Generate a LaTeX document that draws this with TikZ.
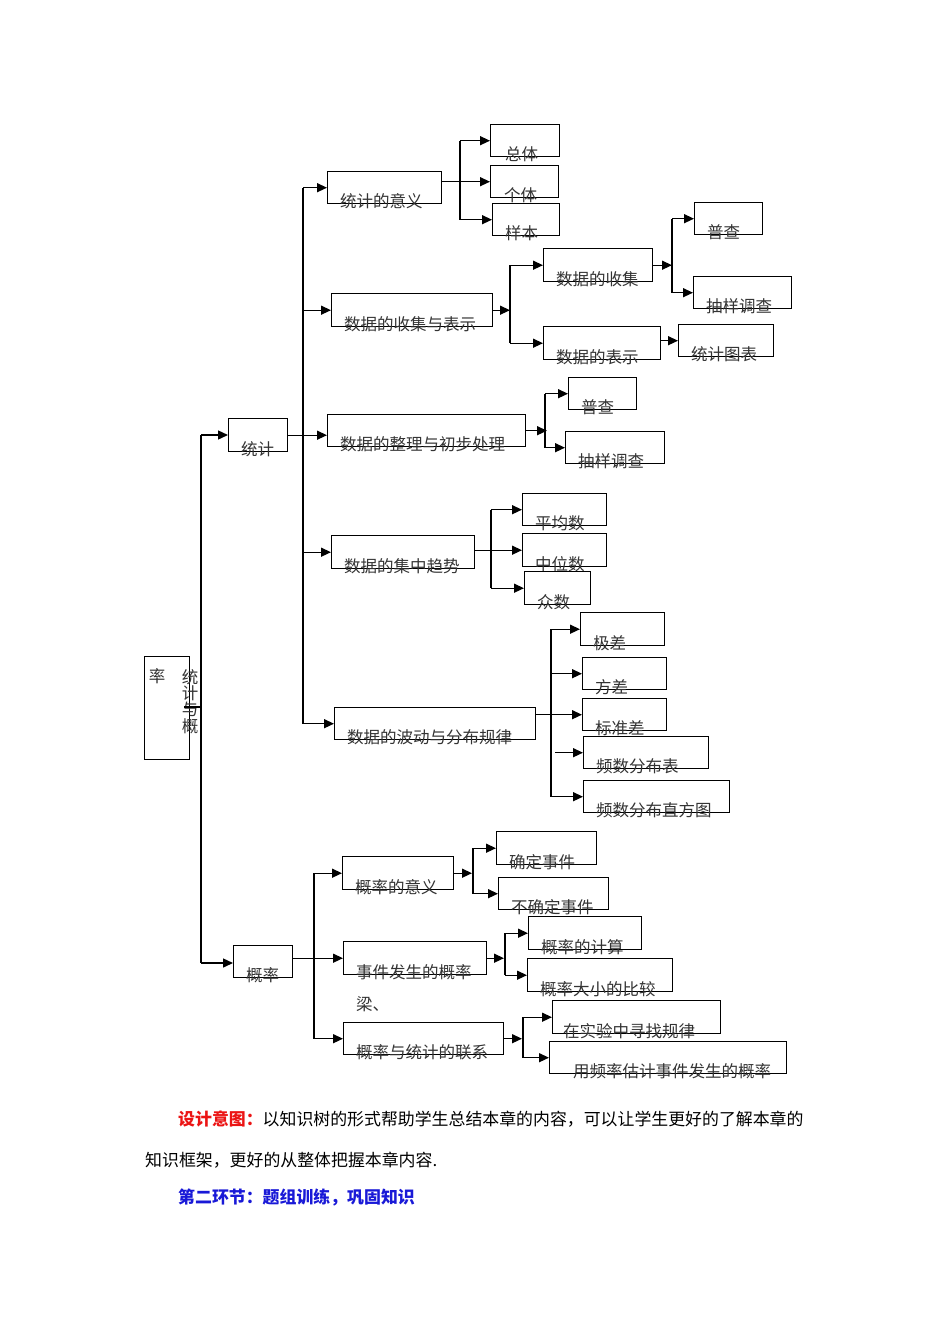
\documentclass[tikz,border=0pt]{standalone}
\usepackage{fontspec}
\setmainfont{Noto Sans CJK SC}
\usetikzlibrary{arrows.meta}
\definecolor{tred}{RGB}{235,20,20}
\definecolor{tblue}{RGB}{25,25,215}
\tikzset{
  bx/.style={draw, line width=1.4pt, rectangle, inner sep=0pt},
  ln/.style={line width=1.4pt},
  arr/.style={line width=1.4pt, -{Triangle[length=10pt,width=9pt]}},
  txt/.style={inner sep=0pt, font=\fontsize{16.5}{18}\selectfont, text=black!80},
  para/.style={inner sep=0pt, font=\fontsize{16.9}{18}\selectfont, anchor=base west}
}
\newcommand\B[7]{%
  \node[bx,anchor=north west,minimum width={(#4-#2)*1pt},minimum height={(#5-#3)*1pt}] (#1) at (#2,#3) {};
  \node[txt,anchor=base west] (#1t) at (#6,#5+4) {#7};}
\begin{document}
\begin{tikzpicture}[x=1pt,y=-1pt]
\useasboundingbox (0,0) rectangle (950,1344);
% root
\node[bx,anchor=north west,minimum width=45pt,minimum height=103pt] (root) at (144,656) {};
\node[txt] (rootA) at (157,676) {率};
\node[txt,align=center,anchor=north,font=\fontsize{16.5}{16.3}\selectfont] (rootB) at (190,669) {统\\计\\与\\概};
% level 1
\B{tj}{228}{418}{287}{451}{241}{统计}
\B{gl}{233}{945}{292}{977}{246}{概率}
% statistics level 2
\B{a1}{327}{171}{441}{203}{340}{统计的意义}
\B{a2}{331}{293}{492}{326}{344}{数据的收集与表示}
\B{a3}{327}{414}{525}{446}{340}{数据的整理与初步处理}
\B{a4}{331}{535}{474}{568}{344}{数据的集中趋势}
\B{a5}{334}{707}{535}{739}{347}{数据的波动与分布规律}
% level 3
\B{b1}{490}{124}{559}{156}{505}{总体}
\B{b2}{490}{165}{558}{197}{504}{个体}
\B{b3}{492}{203}{559}{235}{505}{样本}
\B{c1}{543}{248}{652}{281}{556}{数据的收集}
\B{c2}{543}{326}{660}{359}{556}{数据的表示}
\B{c3}{694}{202}{762}{234}{707}{普查}
\B{c4}{693}{276}{791}{308}{706}{抽样调查}
\B{c5}{678}{324}{773}{356}{691}{统计图表}
\B{d1}{568}{377}{636}{409}{581}{普查}
\B{d2}{565}{431}{664}{463}{578}{抽样调查}
\B{e1}{522}{493}{606}{525}{535}{平均数}
\B{e2}{522}{533}{606}{566}{535}{中位数}
\B{e3}{524}{571}{590}{604}{537}{众数}
\B{f1}{580}{612}{664}{645}{593}{极差}
\B{f2}{582}{657}{666}{689}{595}{方差}
\B{f3}{582}{698}{666}{730}{595}{标准差}
\B{f4}{583}{736}{708}{768}{596}{频数分布表}
\B{f5}{583}{780}{729}{812}{596}{频数分布直方图}
% probability
\B{g1}{342}{856}{453}{889}{355}{概率的意义}
\B{g2}{343}{941}{486}{974}{356}{事件发生的概率}
\B{g3}{343}{1022}{503}{1054}{356}{概率与统计的联系}
\B{h1}{496}{831}{596}{864}{509}{确定事件}
\B{h2}{498}{877}{608}{909}{511}{不确定事件}
\B{h3}{528}{916}{641}{949}{541}{概率的计算}
\B{h4}{527}{958}{672}{991}{540}{概率大小的比较}
\B{h5}{552}{1000}{720}{1033}{563}{在实验中寻找规律}
\B{h6}{549}{1041}{786}{1073}{573}{用频率估计事件发生的概率}
\node[txt,anchor=base west] (liang) at (356,1010) {梁、};
% connectors: root
\coordinate (m1) at (201,435);
\coordinate (m2) at (201,963);
\coordinate (rt) at (184,707);
\draw[ln] (m1) -- (m2);
\draw[ln] (rt) -- (rt -| m1);
\draw[arr] (m1) -- (m1 -| tj.west);
\draw[arr] (m2) -- (m2 -| gl.west);
% statistics
\coordinate (sv) at (303,0);
\draw[arr] (tj.east) -- (tj.east -| a3.west);
\draw[ln] (sv |- a1.west) -- (sv |- a5.west);
\foreach \n in {a1,a2,a4,a5}{\draw[arr] (sv |- \n.west) -- (\n.west);}
% a1
\coordinate (v1) at (460,0);
\draw[arr] (a1.east |- b2.west) -- (b2.west);
\draw[ln] (v1 |- b1.west) -- (v1 |- b3.west);
\foreach \n in {b1,b3}{\draw[arr] (v1 |- \n.west) -- (\n.west);}
% a2
\coordinate (v2) at (510,0);
\draw[arr] (a2.east) -- (v2 |- a2.east);
\draw[ln] (v2 |- c1.west) -- (v2 |- c2.west);
\foreach \n in {c1,c2}{\draw[arr] (v2 |- \n.west) -- (\n.west);}
\coordinate (v3) at (672,0);
\draw[arr] (c1.east) -- (v3 |- c1.east);
\draw[ln] (v3 |- c3.west) -- (v3 |- c4.west);
\foreach \n in {c3,c4}{\draw[arr] (v3 |- \n.west) -- (\n.west);}
\draw[arr] (c2.east |- c5.west) -- (c5.west);
% a3
\coordinate (v4) at (545,0);
\draw[arr] (a3.east) -- ([xshift=2pt]v4 |- a3.east);
\draw[ln] (v4 |- d1.west) -- (v4 |- d2.west);
\foreach \n in {d1,d2}{\draw[arr] (v4 |- \n.west) -- (\n.west);}
% a4
\coordinate (v5) at (491,0);
\draw[arr] (a4.east |- e2.west) -- (e2.west);
\draw[ln] (v5 |- e1.west) -- (v5 |- e3.west);
\foreach \n in {e1,e3}{\draw[arr] (v5 |- \n.west) -- (\n.west);}
% a5
\coordinate (v6) at (551,0);
\draw[arr] (a5.east |- f3.west) -- (f3.west);
\draw[ln] (v6 |- f1.west) -- (v6 |- f5.west);
\foreach \n in {f1,f2,f5}{\draw[arr] (v6 |- \n.west) -- (\n.west);}
\draw[arr] ([xshift=4pt]v6 |- f4.west) -- (f4.west);
% probability
\coordinate (pv) at (314,0);
\draw[arr] (gl.east |- g2.west) -- (g2.west);
\draw[ln] (pv |- g1.west) -- (pv |- g3.west);
\foreach \n in {g1,g3}{\draw[arr] (pv |- \n.west) -- (\n.west);}
\coordinate (w1) at (473,0);
\draw[arr] (g1.east) -- ([xshift=-1pt]w1 |- g1.east);
\draw[ln] (w1 |- h1.west) -- (w1 |- h2.west);
\foreach \n in {h1,h2}{\draw[arr] (w1 |- \n.west) -- (\n.west);}
\coordinate (w2) at (505,0);
\draw[arr] (g2.east) -- ([xshift=-1pt]w2 |- g2.east);
\draw[ln] (w2 |- h3.west) -- (w2 |- h4.west);
\foreach \n in {h3,h4}{\draw[arr] (w2 |- \n.west) -- (\n.west);}
\coordinate (w3) at (523,0);
\draw[arr] (g3.east) -- ([xshift=-1pt]w3 |- g3.east);
\draw[ln] (w3 |- h5.west) -- (w3 |- h6.west);
\foreach \n in {h5,h6}{\draw[arr] (w3 |- \n.west) -- (\n.west);}
% paragraph text
\node[para] (p1) at (178,1125) {{\bfseries\color{tred}设计意图：}以知识树的形式帮助学生总结本章的内容，可以让学生更好的了解本章的};
\node[para] (p2) at (145,1166) {知识框架，更好的从整体把握本章内容.};
\node[para,text=tblue] (p3) at (178,1203) {\bfseries 第二环节：题组训练，巩固知识};
\end{tikzpicture}
\end{document}
